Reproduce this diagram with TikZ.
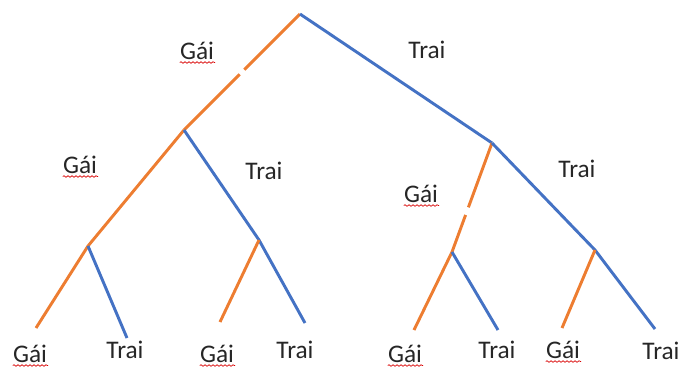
\documentclass[tikz,border=0pt]{standalone}
\usepackage{fontspec}
\setmainfont{Carlito}
\usetikzlibrary{calc,decorations.pathmorphing}
\definecolor{gorange}{HTML}{ED7D31}
\definecolor{tblue}{HTML}{4472C4}
\tikzset{
  girl/.style={draw=gorange,line width=2.2pt},
  boy/.style={draw=tblue,line width=2.2pt},
  lbl/.style={anchor=base,inner sep=0pt,font=\fontsize{19}{22}\selectfont,text=black!85},
  squig/.style={draw=red!85!black,line width=0.5pt,decorate,decoration={snake,amplitude=0.6pt,segment length=3pt}}
}
\newcommand{\gaiunder}[1]{\path[squig] ($(#1.base west)+(0,3.5)$) -- ($(#1.base east)+(1,3.5)$);}
\begin{document}
\begin{tikzpicture}[x=0.75pt,y=-0.75pt]
\useasboundingbox (0,0) rectangle (681,369);
% junctions
\coordinate (root) at (300,14);
\coordinate (L) at (184,130);
\coordinate (R) at (492,143);
\coordinate (LL) at (88,246);
\coordinate (LR) at (259,240);
\coordinate (RL) at (452,252);
\coordinate (RR) at (595,250);
\coordinate (l1) at (36,328);
\coordinate (l2) at (127,338);
\coordinate (l3) at (220,322);
\coordinate (l4) at (305,323);
\coordinate (l5) at (414,330);
\coordinate (l6) at (498,330);
\coordinate (l7) at (562,328);
\coordinate (l8) at (655,329);
% branches
\draw[girl] (root) -- ($(root)!0.48!(L)$);
\draw[girl] ($(root)!0.52!(L)$) -- (L);
\draw[boy] (root) -- (R);
\draw[girl] (L) -- (LL) -- (l1);
\draw[boy] (LL) -- (l2);
\draw[boy] (L) -- (LR) -- (l4);
\draw[girl] (LR) -- (l3);
\draw[girl] (R) -- ($(R)!0.59!(RL)$);
\draw[girl] ($(R)!0.66!(RL)$) -- (RL) -- (l5);
\draw[boy] (RL) -- (l6);
\draw[boy] (R) -- (RR) -- (l8);
\draw[girl] (RR) -- (l7);
% labels
\node[lbl] (g1) at (197,59) {Gái};
\node[lbl] (t1) at (427,58) {Trai};
\node[lbl] (g2) at (80,173) {Gái};
\node[lbl] (t2) at (264,179) {Trai};
\node[lbl] (g3) at (421,202) {Gái};
\node[lbl] (t3) at (577,177) {Trai};
\node[lbl] (g4) at (30,362) {Gái};
\node[lbl] (t4) at (125,358) {Trai};
\node[lbl] (g5) at (217,362) {Gái};
\node[lbl] (t5) at (295,358) {Trai};
\node[lbl] (g6) at (405,362) {Gái};
\node[lbl] (t6) at (497,358) {Trai};
\node[lbl] (g7) at (563,358) {Gái};
\node[lbl] (t7) at (661,359) {Trai};
\foreach \g in {g1,g2,g3,g4,g5,g6,g7} {\gaiunder{\g}}
\end{tikzpicture}
\end{document}
